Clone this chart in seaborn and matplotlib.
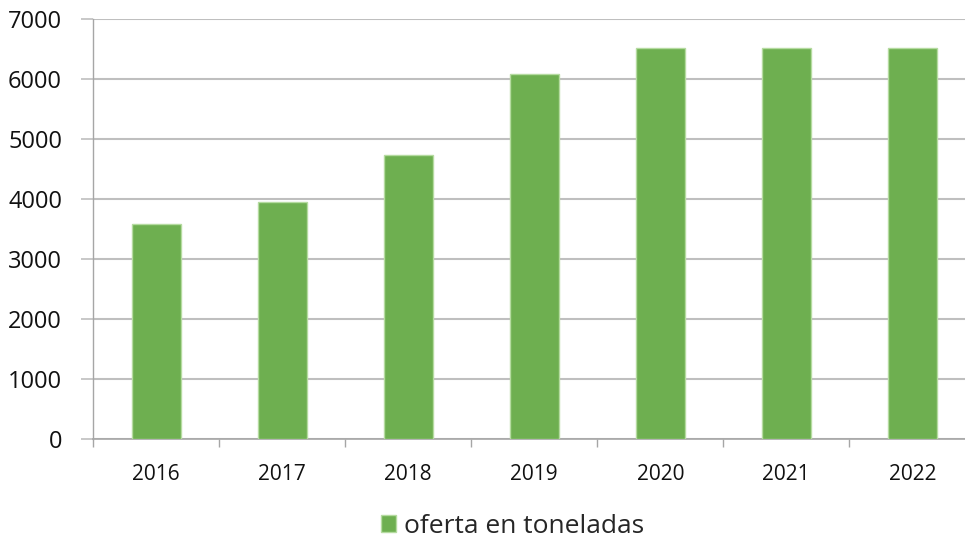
import matplotlib
matplotlib.use("Agg")
import matplotlib.pyplot as plt
import seaborn as sns
import pandas as pd
import numpy as np

years = ["2016", "2017", "2018", "2019", "2020", "2021", "2022"]
oferta = [3580, 3950, 4730, 6080, 6520, 6520, 6520]
series_label = "oferta en toneladas"
y_ticks = [0, 1000, 2000, 3000, 4000, 5000, 6000, 7000]

sns.set_theme(style="white")
plt.rcParams['font.family'] = ['Open Sans', 'DejaVu Sans']

df = pd.DataFrame({"year": years, "value": oferta})

W, H = 965, 540
fig = plt.figure(figsize=(W / 100, H / 100), dpi=100)
left_px, right_px, top_px, bottom_px = 93.3, 975.3, 19.0, 438.7
ax = fig.add_axes([left_px / W, 1 - bottom_px / H,
                   (right_px - left_px) / W, (bottom_px - top_px) / H])

green = "#6EAF50"
sns.barplot(data=df, x="year", y="value", color=green, width=0.39,
            edgecolor="#B5DBA0", linewidth=1.0, saturation=1,
            label=series_label, ax=ax, zorder=3)

ax.set_xlim(-0.5, len(years) - 0.5)
ax.set_ylim(0, 7000)
ax.set_yticks(y_ticks)
ax.set_yticklabels([str(v) for v in y_ticks], fontsize=17, color="#111111")
ax.tick_params(axis="x", labelsize=15, labelcolor="#111111", length=0, pad=18.5)
ax.set_xticks(np.arange(-0.5, len(years), 1.0), minor=True)
ax.tick_params(axis="x", which="minor", length=6, width=1.0, color="#A6A6A6",
               direction="out", bottom=True)
ax.tick_params(axis="y", length=8.5, width=1.2, color="#BFBFBF",
               direction="out", left=True, pad=14)
ax.yaxis.grid(True, color="#BFBFBF", linewidth=1.5, zorder=0)
ax.set_axisbelow(True)
ax.set_xlabel("")
ax.set_ylabel("")

for s in ["top", "right"]:
    ax.spines[s].set_visible(False)
ax.spines["left"].set_color("#A6A6A6")
ax.spines["left"].set_linewidth(1.0)
ax.spines["bottom"].set_color("#A6A6A6")
ax.spines["bottom"].set_linewidth(1.2)

ax.legend(loc="center", bbox_to_anchor=(0.531, 0.025),
          bbox_transform=fig.transFigure, frameon=False,
          fontsize=19, handlelength=0.58, handleheight=0.58,
          handletextpad=0.3, borderpad=0)

fig.savefig("out.png", dpi=100)
